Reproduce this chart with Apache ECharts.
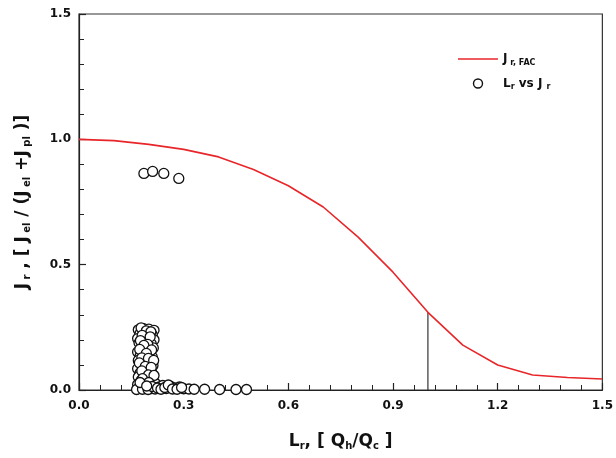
<!DOCTYPE html>
<html style="height: 100%">
<head>
<meta charset="utf-8">
</head>
<body style="height: 100%; margin: 0">
<div id="container" style="width: 616px; height: 458px"></div>
<script type="text/javascript" src="https://cdn.jsdelivr.net/npm/echarts@6/dist/echarts.min.js"></script>
<script type="text/javascript">
// J_r,FAC curve, sampled every 0.1 on L_r
var facX = [0.0, 0.1, 0.2, 0.3, 0.4, 0.5, 0.6, 0.7, 0.8, 0.9, 1.0, 1.1, 1.2, 1.3, 1.4, 1.5];
var facY = [1.0, 0.995, 0.98, 0.96, 0.93, 0.88, 0.815, 0.73, 0.61, 0.47, 0.31, 0.179, 0.10, 0.06, 0.05, 0.044];

// the vertical marker at L_r = 1.0
var markX = [1.0, 1.0];
var markY = [0.0, 0.31];

// measured points (L_r, J_r)
var lrVsJr = [
    [0.186, 0.864], [0.211, 0.872], [0.243, 0.864], [0.286, 0.844],
    [0.170, 0.240], [0.185, 0.245], [0.200, 0.243], [0.215, 0.238],
    [0.175, 0.225], [0.195, 0.228], [0.210, 0.220], [0.168, 0.205],
    [0.183, 0.210], [0.200, 0.205], [0.215, 0.200], [0.172, 0.188],
    [0.190, 0.192], [0.207, 0.185], [0.178, 0.170], [0.195, 0.172],
    [0.213, 0.168], [0.168, 0.152], [0.185, 0.155], [0.203, 0.150],
    [0.175, 0.135], [0.192, 0.138], [0.210, 0.132], [0.170, 0.118],
    [0.187, 0.120], [0.205, 0.115], [0.178, 0.100], [0.196, 0.102],
    [0.212, 0.098], [0.168, 0.085], [0.185, 0.082], [0.202, 0.086],
    [0.175, 0.068], [0.193, 0.070], [0.210, 0.065], [0.170, 0.052],
    [0.188, 0.055], [0.205, 0.050], [0.178, 0.038], [0.196, 0.040],
    [0.213, 0.035], [0.168, 0.022], [0.185, 0.025], [0.203, 0.020],
    [0.220, 0.025], [0.172, 0.008], [0.190, 0.010], [0.208, 0.006],
    [0.230, 0.012], [0.165, 0.002], [0.182, 0.003], [0.198, 0.002],
    [0.218, 0.004], [0.240, 0.018], [0.250, 0.006], [0.262, 0.015],
    [0.275, 0.008], [0.288, 0.012], [0.300, 0.005], [0.315, 0.004],
    [0.330, 0.003], [0.360, 0.003], [0.403, 0.002], [0.450, 0.002],
    [0.480, 0.002],
    [0.178, 0.248], [0.193, 0.236], [0.206, 0.232], [0.181, 0.218],
    [0.204, 0.212], [0.176, 0.197], [0.197, 0.182], [0.186, 0.178],
    [0.174, 0.162], [0.208, 0.160], [0.193, 0.146], [0.180, 0.128],
    [0.199, 0.126], [0.214, 0.118], [0.173, 0.108], [0.190, 0.094],
    [0.207, 0.090], [0.180, 0.076], [0.199, 0.060], [0.215, 0.058],
    [0.182, 0.045], [0.200, 0.030], [0.175, 0.030], [0.210, 0.014],
    [0.194, 0.016], [0.225, 0.008], [0.235, 0.003], [0.246, 0.010],
    [0.256, 0.020], [0.268, 0.004], [0.281, 0.003], [0.294, 0.010]
];

var xTicks = ['0.0', '0.3', '0.6', '0.9', '1.2', '1.5'];
var yTicks = ['0.0', '0.5', '1.0', '1.5'];

var zip = function (a, b) {
    return a.map(function (v, i) { return [v, b[i]]; });
};

var dom = document.getElementById("container");
var myChart = echarts.init(dom);

var font = 'DejaVu Sans';
var rich = {
    b: { fontFamily: font, fontSize: 17, fontWeight: 'bold', color: '#111' },
    s: { fontFamily: font, fontSize: 10, fontWeight: 'bold', color: '#111', padding: [9, 0, 0, 0] }
};
var legendRich = {
    b: { fontFamily: font, fontSize: 12, fontWeight: 'bold', color: '#111' },
    s: { fontFamily: font, fontSize: 8, fontWeight: 'bold', color: '#111', padding: [7, 0, 0, 0] }
};

var option = {
    animation: false,
    backgroundColor: '#fff',
    grid: {
        left: 79, right: 12, top: 14, bottom: 68,
        show: true, borderColor: '#333', borderWidth: 1.2
    },
    legend: {
        orient: 'vertical',
        left: 453, top: 48,
        itemGap: 11,
        itemWidth: 40, itemHeight: 9,
        data: [
            { name: 'fac', icon: 'path://M0,0L40,0L40,1.6L0,1.6Z', itemStyle: { color: '#e8262a' } },
            { name: 'pts', icon: 'circle', itemStyle: { color: '#fff', borderColor: '#111', borderWidth: 1.4 } }
        ],
        formatter: function (name) {
            if (name === 'fac') return '{b|J}{s| r, FAC}';
            return '{b|L}{s|r}{b| vs J }{s|r}';
        },
        textStyle: { rich: legendRich }
    },
    xAxis: {
        type: 'value', min: 0, max: 1.5, interval: 0.3,
        name: '{b|L}{s|r}{b|, [ Q}{s|h}{b|/Q}{s|c}{b| ]}',
        nameLocation: 'middle', nameGap: 42,
        nameTextStyle: { rich: rich },
        axisLine: { onZero: false, lineStyle: { color: '#222', width: 1.2 } },
        axisTick: { inside: true, length: 7, lineStyle: { color: '#222', width: 1.2 } },
        minorTick: { show: true, splitNumber: 5, length: 5, lineStyle: { color: '#222', width: 1 } },
        splitLine: { show: false },
        axisLabel: {
            fontFamily: font, fontSize: 12, fontWeight: 'bold', color: '#111', margin: 10,
            formatter: function (v) { return xTicks[Math.round(v / 0.3)]; }
        }
    },
    yAxis: {
        type: 'value', min: 0, max: 1.5, interval: 0.5,
        name: '{b|J}{s| r}{b| , [ J}{s| el}{b| / (J}{s| el}{b| +J}{s| pl}{b| )]}',
        nameLocation: 'middle', nameGap: 47, nameRotate: 90,
        nameTextStyle: { rich: rich },
        axisLine: { onZero: false, lineStyle: { color: '#222', width: 1.2 } },
        axisTick: { inside: true, length: 7, lineStyle: { color: '#222', width: 1.2 } },
        minorTick: { show: true, splitNumber: 5, length: 5, lineStyle: { color: '#222', width: 1 } },
        splitLine: { show: false },
        axisLabel: {
            fontFamily: font, fontSize: 12, fontWeight: 'bold', color: '#111', margin: 8,
            formatter: function (v) { return yTicks[Math.round(v / 0.5)]; }
        }
    },
    series: [
        {
            name: 'fac', type: 'line', data: zip(facX, facY),
            symbol: 'none', smooth: false,
            lineStyle: { color: '#e8262a', width: 1.6 },
            itemStyle: { color: '#e8262a' },
            z: 3
        },
        {
            name: 'mark', type: 'line', data: zip(markX, markY),
            symbol: 'none',
            lineStyle: { color: '#333', width: 1.2 },
            z: 2
        },
        {
            name: 'pts', type: 'scatter', data: lrVsJr,
            symbol: 'circle', symbolSize: 10,
            itemStyle: { color: '#fff', borderColor: '#111', borderWidth: 1.3, opacity: 1 },
            z: 4
        }
    ]
};

if (option && typeof option === "object") {
    myChart.setOption(option, true);
}
</script>
</body>
</html>
